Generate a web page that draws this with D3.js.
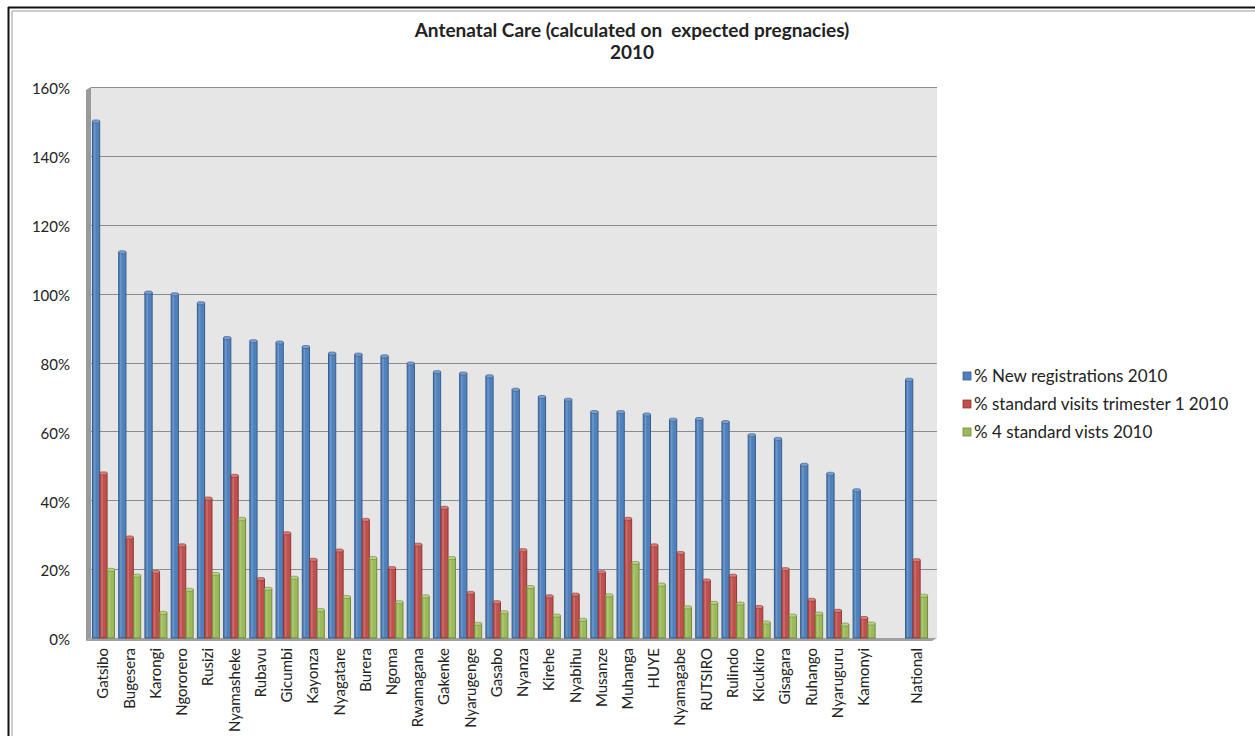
<!DOCTYPE html>
<html>
<head>
<meta charset="utf-8">
<script src="https://cdn.jsdelivr.net/npm/d3@7"></script>
<style>
  body { margin: 0; background: #fff; }
  svg { display: block; font-family: Lato, "Open Sans", sans-serif; }
</style>
</head>
<body>
<svg id="chart" width="1255" height="736"></svg>
<script>
const districts = ["Gatsibo", "Bugesera", "Karongi", "Ngororero", "Rusizi", "Nyamasheke", "Rubavu",
    "Gicumbi", "Kayonza", "Nyagatare", "Burera", "Ngoma", "Rwamagana", "Gakenke", "Nyarugenge",
    "Gasabo", "Nyanza", "Kirehe", "Nyabihu", "Musanze", "Muhanga", "HUYE", "Nyamagabe", "RUTSIRO",
    "Rulindo", "Kicukiro", "Gisagara", "Ruhango", "Nyaruguru", "Kamonyi", "National"];

const newRegistrations = [150, 112, 100.3, 99.8, 97.2, 87.1, 86.2, 85.8, 84.5, 82.6, 82.3, 81.8, 79.7,
    77.2, 76.8, 76.0, 72.1, 70.0, 69.2, 65.6, 65.6, 64.9, 63.4, 63.6, 62.7, 58.9, 57.8, 50.3, 47.7, 42.9, 75.0];
const visitsTrimester1 = [47.8, 29.2, 19.2, 26.9, 40.5, 47.1, 17.1, 30.4, 22.7, 25.4, 34.3, 20.3, 27.1,
    37.8, 13.1, 10.4, 25.5, 12.1, 12.6, 19.1, 34.6, 26.9, 24.7, 16.7, 18.1, 9.0, 20.0, 11.1, 7.9, 5.8, 22.6];
const fourVisits = [19.8, 18.1, 7.3, 14.0, 18.6, 34.6, 14.3, 17.5, 8.1, 11.9, 23.2, 10.4, 12.1,
    23.2, 4.1, 7.5, 14.8, 6.5, 5.3, 12.4, 21.8, 15.5, 8.9, 10.2, 10.0, 4.5, 6.5, 7.1, 3.9, 4.2, 12.3];

const seriesNames = ["% New registrations 2010", "% standard visits trimester 1 2010", "% 4 standard vists 2010"];
const yTicks = [0, 20, 40, 60, 80, 100, 120, 140, 160];

const fills = ["#4f81bd", "#c0504d", "#9bbb59"];
const edges = ["#385d8a", "#8c3836", "#71893f"];
const tops = ["#7a9fd0", "#d77d7a", "#b9d284"];

const svg = d3.select("#chart");

// outer frame
svg.append("line").attr("x1", 8).attr("x2", 1255).attr("y1", 7.5).attr("y2", 7.5)
    .attr("stroke", "#111").attr("stroke-width", 2);
svg.append("line").attr("x1", 8.5).attr("x2", 8.5).attr("y1", 7).attr("y2", 736)
    .attr("stroke", "#111").attr("stroke-width", 2);
svg.append("line").attr("x1", 12).attr("x2", 1255).attr("y1", 11).attr("y2", 11)
    .attr("stroke", "#bbb").attr("stroke-width", 1.5);
svg.append("line").attr("x1", 12).attr("x2", 12).attr("y1", 11).attr("y2", 736)
    .attr("stroke", "#bbb").attr("stroke-width", 1.5);

const plotLeft = 91, plotRight = 937, plotTop = 87, plotBottom = 638;

// leave an empty slot before National
const domain = districts.slice(0, -1).concat(["", "National"]);
const x = d3.scaleBand().domain(domain).range([plotLeft, 929]).paddingInner(0.15).paddingOuter(0.05);
const x1 = d3.scaleBand().domain([0, 1, 2]).range([0, x.bandwidth()]).padding(0.02);
const y = d3.scaleLinear().domain([0, 160]).range([plotBottom, plotTop]);

// back wall
svg.append("rect").attr("x", plotLeft).attr("y", plotTop).attr("width", plotRight - plotLeft)
    .attr("height", plotBottom - plotTop).attr("fill", "#e6e6e6");
// left wall
svg.append("polygon")
    .attr("points", [[86, plotTop + 3], [plotLeft, plotTop], [plotLeft, plotBottom], [86, plotBottom + 3]].join(" "))
    .attr("fill", "#9a9a9a");

// gridlines
svg.append("g").selectAll("line").data(yTicks.slice(1)).join("line")
    .attr("x1", plotLeft).attr("x2", plotRight)
    .attr("y1", d => Math.round(y(d)) + 0.5).attr("y2", d => Math.round(y(d)) + 0.5)
    .attr("stroke", "#8c8c8c").attr("stroke-width", 1.2);

// floor
svg.append("polygon")
    .attr("points", [[plotLeft, plotBottom], [plotRight, plotBottom], [plotRight - 5, plotBottom + 3], [86, plotBottom + 3]].join(" "))
    .attr("fill", "#a0a0a0");

// y axis labels
svg.append("g").selectAll("text").data(yTicks).join("text")
    .attr("x", 70).attr("y", d => y(d) + 2)
    .attr("dy", "0.35em")
    .attr("text-anchor", "end")
    .attr("font-size", "15px")
    .attr("fill", "#222")
    .text(d => d + "%");

// bars
const rows = districts.map((name, i) => ({
    name: name,
    vals: [newRegistrations[i], visitsTrimester1[i], fourVisits[i]]
}));

const groups = svg.append("g").selectAll("g").data(rows).join("g")
    .attr("transform", d => `translate(${x(d.name)},0)`);

groups.each(function (d) {
    const g = d3.select(this);
    d.vals.forEach((v, s) => {
        const bx = x1(s), bw = x1.bandwidth(), top = y(v);
        g.append("rect")
            .attr("x", bx).attr("y", top)
            .attr("width", bw).attr("height", plotBottom - top)
            .attr("fill", fills[s])
            .attr("stroke", edges[s]).attr("stroke-width", 1);
        g.append("rect")
            .attr("x", bx + 1.5).attr("y", top + 1)
            .attr("width", 1.5).attr("height", Math.max(0, plotBottom - top - 2))
            .attr("fill", "#fff").attr("opacity", 0.18);
        g.append("rect")
            .attr("x", bx).attr("y", top - 1.5)
            .attr("width", bw).attr("height", 3)
            .attr("rx", 1.5)
            .attr("fill", tops[s])
            .attr("stroke", edges[s]).attr("stroke-width", 0.6);
    });
});

// category labels
svg.append("g").selectAll("text").data(districts).join("text")
    .attr("transform", d => `translate(${x(d) + x.bandwidth() / 2 + 5},648) rotate(-90)`)
    .attr("text-anchor", "end")
    .attr("font-size", "15px")
    .attr("fill", "#222")
    .text(d => d);

// title
const title = svg.append("text")
    .attr("x", 632).attr("text-anchor", "middle")
    .attr("font-size", "19px").attr("font-weight", "bold").attr("fill", "#222")
    .style("white-space", "pre");
title.append("tspan").attr("x", 632).attr("y", 37).text("Antenatal Care (calculated on  expected pregnacies)");
title.append("tspan").attr("x", 632).attr("y", 59).text("2010");

// legend
const legend = svg.append("g").selectAll("g").data(seriesNames).join("g")
    .attr("transform", (d, i) => `translate(963,${376 + i * 28})`);
legend.append("rect")
    .attr("x", 0).attr("y", -4).attr("width", 8).attr("height", 8)
    .attr("fill", (d, i) => fills[i]).attr("stroke", (d, i) => edges[i]).attr("stroke-width", 0.8);
legend.append("text")
    .attr("x", 11).attr("y", 0).attr("dy", "0.35em")
    .attr("font-size", "17px").attr("fill", "#222")
    .text(d => d);
</script>
</body>
</html>
